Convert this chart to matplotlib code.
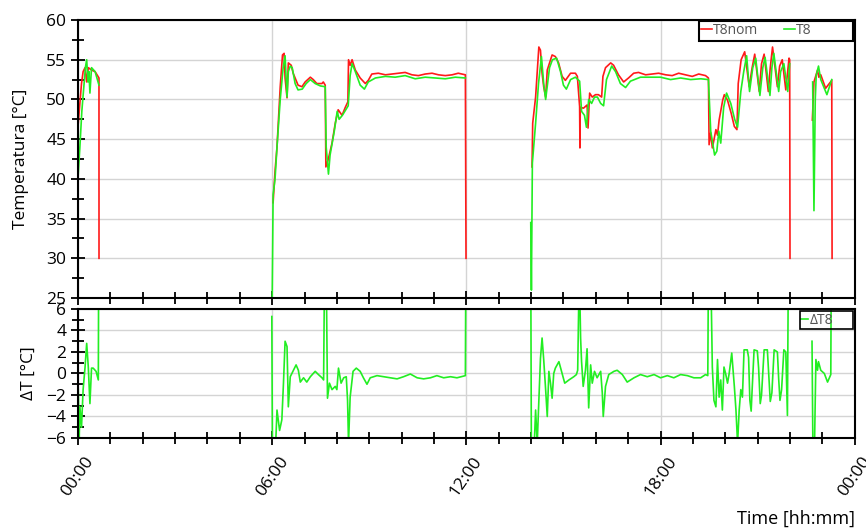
import numpy as np
import matplotlib
matplotlib.use("Agg")
from matplotlib import pyplot as plt
from matplotlib.patches import Rectangle
from matplotlib.ticker import MultipleLocator, FixedLocator

plt.rcParams['font.family'] = ['Open Sans', 'DejaVu Sans']

nan = np.nan

# time in hours since midnight, nan = gap between recordings
nom_t = [0.01, 0.06, 0.11, 0.16, 0.22, 0.27, 0.32, 0.42, 0.53, 0.65, 0.651, nan,
         6.03, 6.09, 6.15, 6.25, 6.32, 6.37, 6.40, 6.46, 6.50, 6.59, 6.65, 6.80, 6.92, 7.02,
         7.18, 7.27, 7.38, 7.54, 7.58, 7.64, 7.66, 7.73, 7.85, 7.95, 8.04, 8.16, 8.26, 8.34,
         8.36, 8.41, 8.47, 8.57, 8.72, 8.88, 8.97, 9.08, 9.28, 9.50, 9.70, 9.90, 10.11, 10.32,
         10.52, 10.73, 10.94, 11.14, 11.35, 11.56, 11.75, 11.97, 11.99, nan,
         14.03, 14.05, 14.14, 14.24, 14.29, 14.34, 14.39, 14.45, 14.50, 14.57, 14.65, 14.75,
         14.85, 14.96, 15.06, 15.22, 15.37, 15.43, 15.50, 15.51, 15.52, 15.62, 15.73, 15.76,
         15.81, 15.89, 15.99, 16.08, 16.18, 16.22, 16.30, 16.46, 16.55, 16.70, 16.86, 17.01,
         17.17, 17.32, 17.54, 17.75, 17.94, 18.16, 18.36, 18.56, 18.77, 18.98, 19.18, 19.39,
         19.48, 19.50, 19.55, 19.60, 19.65, 19.71, 19.76, 19.81, 19.92, 19.97, 20.07, 20.18,
         20.28, 20.36, 20.40, 20.49, 20.60, 20.74, 20.83, 20.91, 21.05, 21.12, 21.20, 21.33,
         21.39, 21.46, 21.61, 21.68, 21.76, 21.87, 21.97, 21.99, 22.00, nan,
         22.69, 22.74, 22.85, 22.89, 22.95, 23.10, 23.29, 23.30]
nom_v = [47, 49.5, 52, 53.5, 54, 52.2, 54, 53.7, 53.5, 52.7, 30, nan,
         37, 41, 44, 51.6, 55.6, 55.8, 52.7, 50.2, 54.6, 54.3, 53.3, 51.8, 51.6, 52.2,
         52.8, 52.5, 52, 52, 52.2, 51.8, 41.5, 42.4, 44.5, 47, 48.7, 48, 49, 49.7,
         55, 54.3, 55, 53.7, 52.7, 52, 52.4, 53.2, 53.3, 53.1, 53.2, 53.3, 53.4, 53.1,
         53, 53.2, 53.3, 53.1, 53, 53.1, 53.3, 53.1, 30, nan,
         41.5, 47, 50.3, 56.6, 56.2, 53.3, 51.6, 50.3, 53.7, 54.6, 55.6, 55.4,
         54.6, 52.9, 52.4, 53.3, 53.3, 52.9, 49.1, 43.9, 49, 48.9, 49.3, 46.4,
         50.8, 50.3, 50.6, 50.6, 50.3, 52.9, 54, 54.6, 54.3, 53.1, 52.2, 52.7,
         53.3, 53.4, 53.1, 53.2, 53.3, 53.1, 53, 53.3, 53.1, 52.9, 53.2, 53,
         52.7, 44.3, 45.8, 43.9, 44.9, 46.2, 45.5, 47.4, 49.9, 50.6, 49.9, 48.3,
         46.6, 46.2, 52, 55, 56, 51.6, 54, 55.7, 51, 54.5, 55.7, 51,
         54, 56.6, 51.6, 54.2, 55, 51.2, 55.2, 55, 30, nan,
         47.4, 52.2, 53.7, 52.8, 53.1, 51.4, 52.4, 30]

t8_t = [0.00, 0.06, 0.12, 0.19, 0.23, 0.27, 0.31, 0.34, 0.37, 0.42, 0.53, 0.65, nan,
        6.00, 6.03, 6.09, 6.15, 6.25, 6.34, 6.40, 6.43, 6.46, 6.50, 6.56, 6.62, 6.71, 6.80,
        6.93, 7.05, 7.18, 7.33, 7.49, 7.64, 7.67, 7.74, 7.79, 7.92, 8.01, 8.07, 8.17, 8.29,
        8.35, 8.41, 8.47, 8.57, 8.72, 8.85, 8.97, 9.19, 9.50, 9.80, 10.11, 10.42, 10.73,
        11.04, 11.35, 11.66, 11.97, nan,
        13.99, 14.01, 14.04, 14.14, 14.23, 14.32, 14.39, 14.45, 14.51, 14.57, 14.66, 14.79,
        14.91, 15.00, 15.09, 15.22, 15.37, 15.50, 15.56, 15.65, 15.71, 15.78, 15.87, 15.96,
        16.05, 16.15, 16.24, 16.33, 16.49, 16.61, 16.76, 16.92, 17.07, 17.38, 17.69, 18.00,
        18.31, 18.62, 18.93, 19.24, 19.48, 19.55, 19.67, 19.74, 19.80, 19.86, 19.95, 20.04,
        20.17, 20.29, 20.38, 20.48, 20.57, 20.66, 20.75, 20.85, 20.94, 21.07, 21.16, 21.23,
        21.38, 21.44, 21.50, 21.65, 21.71, 21.81, 21.93, 21.99, nan,
        22.70, 22.74, 22.78, 22.81, 22.88, 22.95, 23.14, 23.29]
t8_v = [40, 44, 48.5, 52, 54, 55, 52.2, 53.5, 50.8, 54, 53.5, 51.8, nan,
        24, 38, 40, 44, 50, 54, 55.5, 53, 50.3, 53.5, 54.2, 54, 52, 51.2,
        51.3, 52, 52.5, 52, 51.7, 51.6, 44, 40.6, 43, 46, 48.5, 47.5, 48, 48.8,
        49.2, 53, 54.5, 53.5, 51.8, 51.3, 52.2, 52.7, 52.9, 52.8, 53, 52.6, 52.8,
        52.7, 52.6, 52.8, 52.7, nan,
        34.5, 26, 42, 47, 52, 55.4, 52, 50, 52, 54, 55, 55.2,
        53.5, 51.8, 51.3, 52.5, 52.8, 52.3, 48.5, 48, 46.5, 50, 49.5, 50.3,
        50.3, 49.5, 49.2, 52.5, 54.2, 53.5, 52, 51.5, 52.3, 52.8, 52.8, 52.8,
        52.5, 52.7, 52.5, 52.6, 52.5, 46, 43, 43.5, 46, 44.5, 49, 50.8,
        49.5, 47.5, 46.5, 51, 53.5, 55.5, 51, 54, 55.2, 50.5, 54, 55.3,
        50.5, 54, 55.8, 51, 53.5, 54.5, 51, 54.5, nan,
        52.2, 36, 50, 53, 54.2, 52.5, 50.6, 52.5]

dt_t = [0.01, 0.04, 0.06, 0.11, 0.16, 0.22, 0.27, 0.32, 0.37, 0.42, 0.47, 0.56, 0.63, 0.65, nan,
        5.99, 6.01, 6.09, 6.15, 6.23, 6.30, 6.35, 6.40, 6.46, 6.50, 6.56, 6.66, 6.74, 6.81,
        6.87, 6.97, 7.07, 7.18, 7.33, 7.43, 7.54, 7.59, 7.62, 7.67, 7.71, 7.77, 7.85, 7.95,
        8.00, 8.05, 8.13, 8.21, 8.29, 8.33, 8.36, 8.41, 8.50, 8.60, 8.72, 8.82, 8.93, 9.03,
        9.24, 9.44, 9.65, 9.86, 10.06, 10.27, 10.48, 10.68, 10.89, 11.09, 11.30, 11.51,
        11.71, 11.97, 12.00, nan,
        13.98, 14.01, 14.08, 14.14, 14.19, 14.24, 14.29, 14.34, 14.39, 14.45, 14.50, 14.55,
        14.60, 14.65, 14.70, 14.75, 14.86, 14.96, 15.04, 15.17, 15.32, 15.40, 15.44, 15.49,
        15.53, 15.56, 15.61, 15.68, 15.73, 15.78, 15.84, 15.89, 15.96, 16.04, 16.15, 16.20,
        16.23, 16.30, 16.40, 16.56, 16.66, 16.82, 16.97, 17.18, 17.38, 17.59, 17.80, 18.00,
        18.21, 18.41, 18.62, 18.83, 19.03, 19.24, 19.39, 19.46, 19.48, 19.55, 19.60, 19.65,
        19.71, 19.76, 19.81, 19.86, 19.91, 19.96, 20.01, 20.07, 20.12, 20.20, 20.28, 20.33,
        20.38, 20.43, 20.48, 20.53, 20.58, 20.68, 20.72, 20.76, 20.80, 20.83, 20.89, 20.99,
        21.03, 21.08, 21.12, 21.20, 21.30, 21.34, 21.39, 21.44, 21.51, 21.61, 21.65, 21.69,
        21.74, 21.81, 21.87, 21.92, 21.97, nan,
        22.68, 22.71, 22.75, 22.80, 22.85, 22.88, 22.95, 23.06, 23.16, 23.26, 23.29]
dt_v = [-1.5, -5.9, -3.1, -5, -1.5, 0.6, 2.8, 0.6, -2.8, 0.5, 0.5, 0.2, -0.6, 20, nan,
        5.3, -8, -8, -3.4, -5.3, -4.3, -0.9, 3.0, 2.5, -3.1, -0.3, 0.3, 0.8, 0.3,
        -0.8, -0.4, -0.8, -0.3, 0.2, -0.1, -0.4, -0.6, 10, 10, -2.3, -0.9, -1.5, -1.2,
        -1.5, 0.5, -0.9, -0.4, -0.3, -2.5, -6.5, -2.2, 0.2, 0.5, 0.2, -0.4, -1.0, -0.4,
        -0.2, -0.3, -0.4, -0.5, -0.3, -0.05, -0.4, -0.5, -0.4, -0.2, -0.4, -0.3,
        -0.4, -0.2, 20, nan,
        20, -8, -8, -3.4, -6.5, -2.5, 1.4, 3.3, 1.3, -1.5, -4, 0.2,
        -0.9, -2.3, 0, 0.5, 1.1, 0, -0.9, -0.6, -0.3, -0.1, 0.3, 10,
        3.3, 1.1, -1.2, 0.3, 2.3, -3.2, 0.8, -0.9, 0.2, -0.4, 0.2, -1.8,
        -4, -1.2, -0.1, 0.2, 0.3, -0.1, -0.8, -0.4, -0.1, -0.3, -0.1, -0.4,
        -0.2, -0.4, -0.1, -0.2, -0.4, -0.4, -0.1, -0.2, 10, 10, 0.6, -2.5,
        -3.1, 1.3, -2.2, -0.6, -3.4, 0.6, 0, -0.9, 0, 1.9, -1.2, -3.4,
        -6.5, -3.4, -1.5, -2.2, 2.2, 2.2, 1.5, -2.5, -3.5, -1.5, 2.2, 2.1,
        0.5, -2.8, -2.0, 2.2, 2.2, 0, -2.6, -1.8, 2.2, 2.0, -0.5, -2.5,
        -1.5, 2.2, 2.0, -3.9, 20, nan,
        3.0, -8, -8, 1.3, 0.3, 1.1, 0.3, 0, -0.8, -0.1, 20]

hour_ticks = [0, 6, 12, 18, 24]
hour_labels = ['00:00', '06:00', '12:00', '18:00', '00:00']

red = '#ff1a1a'
green = '#22ee22'

fig = plt.figure(figsize=(8.66, 5.32), dpi=100)
ax1 = fig.add_axes([0.090, 0.4398, 0.897, 0.5226])
ax2 = fig.add_axes([0.090, 0.1767, 0.897, 0.2425])

ax1.plot(nom_t, nom_v, color=red, lw=1.2, label='T8nom')
ax1.plot(t8_t, t8_v, color=green, lw=1.2, label='T8')
ax2.plot(dt_t, dt_v, color=green, lw=1.2, label='ΔT8')

for ax in (ax1, ax2):
    ax.set_xlim(0, 24)
    ax.xaxis.set_major_locator(FixedLocator(hour_ticks))
    ax.xaxis.set_minor_locator(MultipleLocator(1))
    ax.grid(True, which='major', color='#d4d4d4', lw=1)
    ax.set_axisbelow(True)
    for s in ax.spines.values():
        s.set_linewidth(1.5)
    ax.tick_params(which='major', direction='inout', length=10, width=1.3, labelsize=12.5)
    ax.tick_params(which='minor', direction='inout', length=8, width=1.3)

ax1.set_ylim(25, 60)
ax1.yaxis.set_major_locator(MultipleLocator(5))
ax1.yaxis.set_minor_locator(MultipleLocator(2.5))
ax1.tick_params(axis='x', labelbottom=False)
ax1.set_ylabel('Temperatura [°C]', fontsize=12.5, labelpad=12)

ax2.set_ylim(-6, 6)
ax2.yaxis.set_major_locator(MultipleLocator(2))
ax2.yaxis.set_minor_locator(MultipleLocator(1))
ax2.set_xticklabels(hour_labels, rotation=55, ha='center')
ax2.tick_params(axis='x', pad=6)
ax2.set_ylabel('ΔT [°C]', fontsize=12.5, labelpad=7)
ax2.set_xlabel('Time [hh:mm]', fontsize=13, loc='right', labelpad=8)

# legends: entries without frame, boxes drawn as plain rectangles
leg1 = ax1.legend(loc='center left', bbox_to_anchor=(0.800, 0.961), ncol=2, fontsize=10,
                  frameon=False, borderaxespad=0, handlelength=0.8,
                  handletextpad=0.1, columnspacing=1.8, borderpad=0.1)
for txt in leg1.get_texts():
    txt.set_color('#555555')
ax1.add_patch(Rectangle((0.799, 0.924), 0.199, 0.074, transform=ax1.transAxes,
                        fill=False, edgecolor='black', lw=1.5, zorder=6, clip_on=False))

leg2 = ax2.legend(loc='center left', bbox_to_anchor=(0.929, 0.9145), fontsize=10,
                  frameon=False, borderaxespad=0, handlelength=0.5,
                  handletextpad=0.1, borderpad=0.1)
for txt in leg2.get_texts():
    txt.set_color('#555555')
ax2.add_patch(Rectangle((0.929, 0.845), 0.069, 0.139, transform=ax2.transAxes,
                        fill=False, edgecolor='black', lw=1.2, zorder=6, clip_on=False))

fig.savefig('out.png', dpi=100)
